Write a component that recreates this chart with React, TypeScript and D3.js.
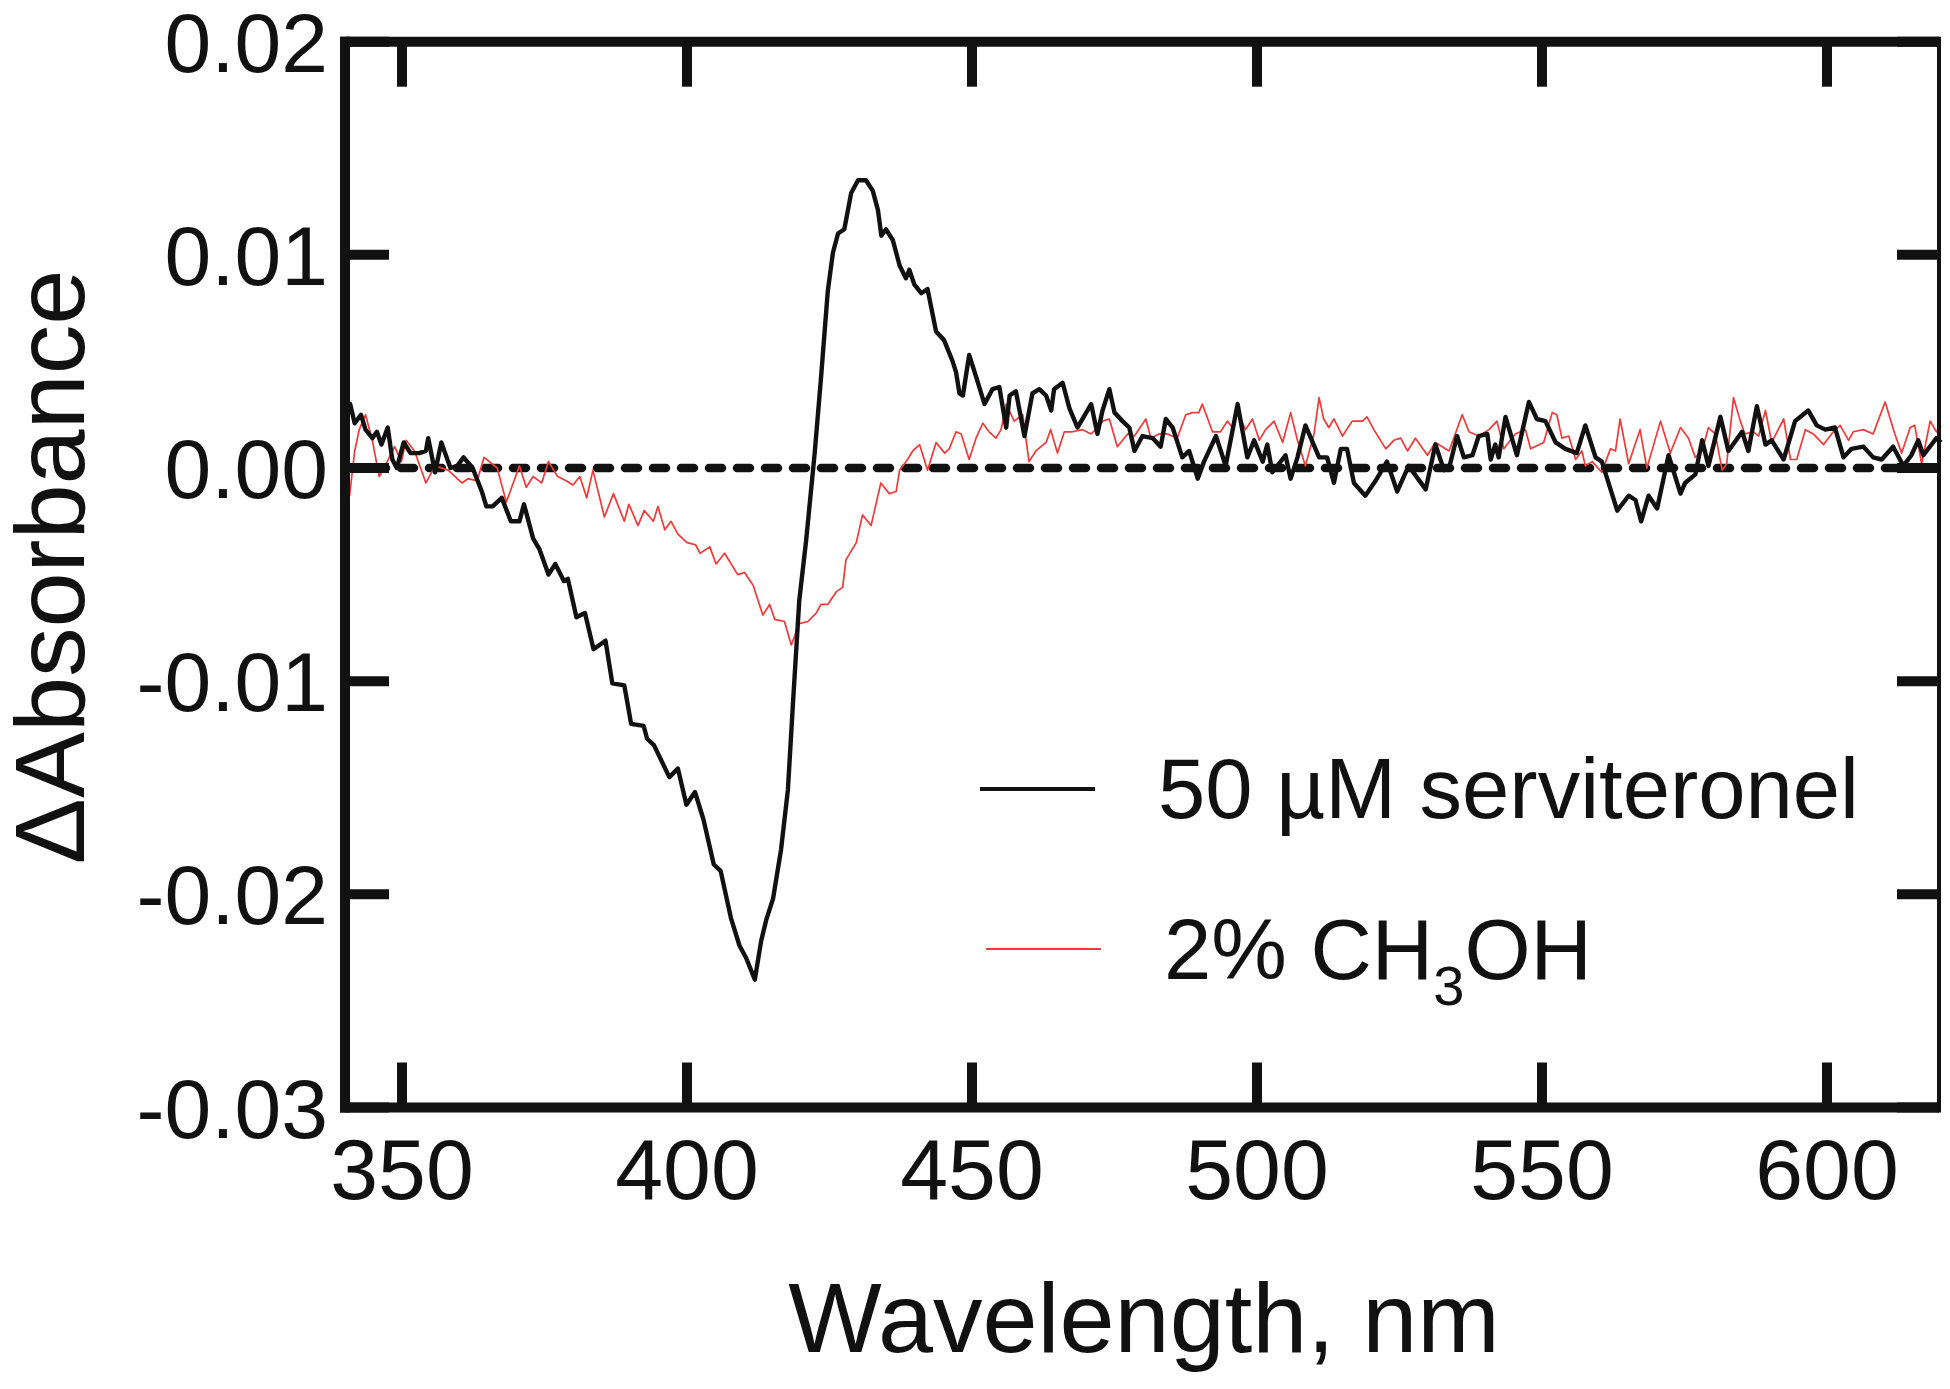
import React from "react";
import * as d3 from "d3";

const blackWl = [340.0,340.9,341.7,342.8,343.6,344.8,345.6,346.4,347.5,348.3,349.1,350.3,351.5,353.0,354.2,354.6,355.8,356.9,358.5,359.7,360.8,362.4,364.0,364.8,365.9,367.5,369.1,370.6,371.4,373.0,374.1,375.7,376.9,378.4,379.1,380.6,382.1,383.6,385.7,386.9,389.0,390.2,392.4,393.0,394.2,396.9,398.4,399.9,401.4,402.9,404.7,405.9,407.7,409.2,410.4,411.9,413.0,413.9,415.1,416.5,417.7,418.6,419.7,420.9,422.4,423.5,424.7,425.6,426.5,427.6,428.8,430.0,431.4,432.6,433.5,434.1,434.9,436.1,437.3,438.4,439.0,439.9,441.1,442.2,443.7,445.1,446.6,447.2,447.8,448.4,449.5,450.7,452.2,453.6,454.8,456.0,456.6,457.7,459.2,460.6,461.8,463.0,463.9,464.4,465.9,467.1,468.5,470.9,472.0,472.9,474.1,475.0,476.4,477.6,478.5,479.9,481.7,483.1,484.0,485.2,486.9,488.1,489.6,490.7,492.8,494.5,496.6,498.3,499.5,501.0,501.8,502.7,505.0,505.9,507.1,508.5,510.9,512.3,513.5,514.7,515.8,517.0,519.0,520.8,522.8,524.6,526.6,529.6,531.3,532.8,533.7,535.1,536.3,537.8,538.9,540.4,541.0,541.8,542.4,543.6,545.6,547.7,549.1,550.6,552.4,554.1,556.1,557.6,559.4,560.5,563.2,565.2,566.4,567.4,568.7,570.2,572.2,574.3,575.1,576.9,578.1,579.2,581.3,582.7,585.1,586.2,587.7,589.2,590.3,592.4,594.4,596.7,598.2,599.7,601.4,602.9,604.3,606.4,608.1,609.6,611.6,613.4,614.8,616.0,616.9,619.2,620.0];
const blackAbs = [0.0025,0.0030,0.0021,0.0025,0.0018,0.0014,0.0017,0.0011,0.0019,0.0004,0.0000,0.0012,0.0007,0.0007,0.0008,0.0014,-0.0002,0.0012,0.0000,0.0001,0.0005,0.0000,-0.0011,-0.0018,-0.0018,-0.0014,-0.0025,-0.0025,-0.0017,-0.0033,-0.0038,-0.0050,-0.0045,-0.0053,-0.0052,-0.0070,-0.0068,-0.0085,-0.0081,-0.0101,-0.0102,-0.0120,-0.0121,-0.0127,-0.0130,-0.0145,-0.0141,-0.0158,-0.0152,-0.0165,-0.0186,-0.0189,-0.0211,-0.0224,-0.0230,-0.0240,-0.0222,-0.0212,-0.0202,-0.0179,-0.0151,-0.0110,-0.0062,-0.0034,0.0007,0.0042,0.0083,0.0101,0.0110,0.0112,0.0129,0.0135,0.0135,0.0130,0.0121,0.0109,0.0112,0.0107,0.0095,0.0089,0.0093,0.0086,0.0082,0.0084,0.0064,0.0060,0.0050,0.0045,0.0035,0.0034,0.0053,0.0043,0.0030,0.0037,0.0038,0.0019,0.0034,0.0036,0.0015,0.0035,0.0037,0.0034,0.0027,0.0037,0.0040,0.0028,0.0019,0.0030,0.0016,0.0027,0.0037,0.0026,0.0022,0.0019,0.0008,0.0015,0.0014,0.0010,0.0023,0.0019,0.0005,0.0008,-0.0005,0.0003,0.0015,0.0001,0.0030,0.0005,0.0013,0.0003,0.0011,-0.0002,0.0006,-0.0005,0.0005,0.0020,0.0005,0.0005,-0.0007,0.0009,0.0009,-0.0007,-0.0013,-0.0006,0.0003,-0.0011,0.0001,-0.0010,0.0011,-0.0001,0.0000,0.0015,0.0005,0.0006,0.0015,0.0016,0.0004,0.0011,0.0005,0.0024,0.0006,0.0031,0.0023,0.0022,0.0012,0.0009,0.0007,0.0020,0.0005,0.0003,-0.0020,-0.0013,-0.0015,-0.0025,-0.0013,-0.0019,0.0006,-0.0012,-0.0007,-0.0003,0.0013,0.0001,0.0024,0.0008,0.0017,0.0008,0.0029,0.0011,0.0013,0.0004,0.0022,0.0027,0.0020,0.0018,0.0019,0.0005,0.0009,0.0010,0.0005,0.0004,0.0010,0.0001,0.0006,0.0013,0.0006,0.0014,0.0012];

const redWl = [340.0,340.3,340.8,341.7,342.5,343.6,344.8,346.0,347.2,348.7,349.9,350.7,352.2,354.2,355.8,358.1,360.5,361.6,363.2,364.4,366.7,368.3,370.6,371.8,373.0,374.5,375.7,377.3,378.8,380.0,381.2,382.4,383.5,385.5,387.1,389.0,389.8,391.4,392.5,394.1,394.9,396.1,397.2,398.4,400.0,401.5,402.3,404.0,405.1,406.6,408.9,410.1,411.6,413.3,414.5,415.4,417.1,418.3,419.7,421.2,422.7,423.5,424.7,426.2,427.3,427.9,429.7,430.8,432.3,434.0,435.5,436.7,437.3,438.7,439.6,440.8,442.2,443.7,445.2,446.0,447.2,448.1,449.5,450.7,451.9,453.0,454.2,455.1,456.0,457.4,458.9,460.0,461.2,463.0,463.8,465.0,466.2,467.6,469.4,470.9,471.7,472.9,474.1,475.5,477.3,478.5,480.5,481.4,482.8,484.3,486.0,487.5,488.7,489.8,490.4,492.2,493.6,494.8,495.7,496.6,498.0,499.2,500.4,501.5,503.0,504.5,505.9,507.1,508.5,510.0,510.9,511.7,512.6,513.5,515.0,516.7,518.5,519.3,520.5,522.6,524.0,525.2,526.4,527.8,529.9,531.3,533.7,536.0,537.2,538.9,540.7,542.1,543.3,545.3,547.1,548.0,550.3,551.8,552.6,553.5,554.7,555.9,557.0,557.6,558.8,560.5,562.0,562.9,563.7,565.2,567.2,568.4,570.8,572.5,574.3,575.7,576.9,578.1,579.2,580.4,581.6,582.4,583.6,584.8,585.6,587.1,588.0,589.2,590.3,592.4,593.6,594.7,596.2,597.6,599.4,601.1,602.3,603.8,604.6,606.4,608.1,610.2,611.9,613.1,614.6,615.4,616.6,618.1,619.2,620.0];
const redAbs = [0.0010,0.0028,-0.0013,0.0008,0.0018,0.0025,0.0013,-0.0004,0.0002,0.0010,0.0003,0.0013,0.0008,-0.0007,0.0001,-0.0001,-0.0007,-0.0005,-0.0006,0.0005,0.0000,-0.0016,0.0001,-0.0009,-0.0004,-0.0007,0.0003,-0.0004,-0.0006,-0.0008,-0.0004,-0.0014,-0.0001,-0.0023,-0.0012,-0.0025,-0.0017,-0.0027,-0.0020,-0.0025,-0.0018,-0.0029,-0.0025,-0.0031,-0.0035,-0.0036,-0.0040,-0.0037,-0.0045,-0.0040,-0.0050,-0.0049,-0.0055,-0.0069,-0.0064,-0.0071,-0.0072,-0.0083,-0.0073,-0.0072,-0.0068,-0.0064,-0.0064,-0.0058,-0.0056,-0.0043,-0.0035,-0.0022,-0.0027,-0.0007,-0.0012,-0.0011,-0.0001,0.0004,0.0008,0.0011,-0.0001,0.0012,0.0007,0.0009,0.0017,0.0016,0.0004,0.0014,0.0021,0.0017,0.0014,0.0018,0.0030,0.0022,0.0025,0.0003,0.0008,0.0012,0.0018,0.0007,0.0017,0.0017,0.0018,0.0016,0.0018,0.0022,0.0023,0.0010,0.0016,0.0015,0.0023,0.0014,0.0016,0.0016,0.0014,0.0025,0.0026,0.0026,0.0030,0.0017,0.0017,0.0022,0.0019,0.0026,0.0018,0.0023,0.0013,0.0018,0.0022,0.0012,0.0026,0.0013,0.0001,0.0016,0.0033,0.0023,0.0019,0.0023,0.0015,0.0022,0.0022,0.0024,0.0018,0.0009,0.0013,0.0014,0.0008,0.0014,0.0006,0.0012,0.0008,0.0025,0.0017,0.0015,0.0018,0.0022,0.0009,0.0016,0.0018,0.0009,0.0012,0.0026,0.0025,0.0014,0.0015,0.0004,0.0008,0.0001,0.0003,-0.0002,0.0009,0.0008,0.0023,0.0002,0.0018,0.0000,0.0022,0.0007,0.0019,0.0014,0.0005,0.0008,0.0019,0.0016,-0.0001,0.0002,0.0033,0.0022,0.0016,0.0017,0.0015,0.0027,0.0012,0.0023,0.0004,0.0004,0.0018,0.0016,0.0011,0.0017,0.0020,0.0013,0.0017,0.0018,0.0016,0.0031,0.0016,0.0007,0.0019,0.0020,0.0002,0.0022,0.0017,0.0020];

const xTicks = [350, 400, 450, 500, 550, 600];
const yTicks = [0.02, 0.01, 0.0, -0.01, -0.02, -0.03];
const yTickLabels = ["0.02", "0.01", "0.00", "-0.01", "-0.02", "-0.03"];
const seriesNames = ["50 \u00B5M serviteronel", "2% CH"];

const FONT = "'Liberation Sans', Arial, Helvetica, sans-serif";

export default function App() {
  const W = 1950, H = 1389;
  const x = d3.scaleLinear().domain([340, 620]).range([345, 1941]);
  const y = d3.scaleLinear().domain([-0.03, 0.02]).range([1107.5, 41.7]);

  const line = d3
    .line<[number, number]>()
    .x((d) => x(d[0]))
    .y((d) => y(d[1]));

  const blackData: [number, number][] = blackWl.map((w, i) => [w, blackAbs[i]]);
  const redData: [number, number][] = redWl.map((w, i) => [w, redAbs[i]]);

  const left = x(340), right = x(620) - 2, top = y(0.02), bottom = y(-0.03);

  return (
    <div style={{ position: "absolute", left: 0, top: 0 }}>
      <svg width={W} height={H} style={{ display: "block", background: "#fff" }}>
        {/* zero dashed line */}
        <line x1={left} x2={right} y1={y(0)} y2={y(0)} stroke="#111" strokeWidth={8.5}
          strokeDasharray="13 15" strokeLinecap="round" />
        {/* data */}
        <path d={line(redData) || ""} fill="none" stroke="#f03a3a" strokeWidth={1.7} strokeLinejoin="round" />
        <path d={line(blackData) || ""} fill="none" stroke="#111" strokeWidth={4.4} strokeLinejoin="round" />

        {/* frame */}
        <line x1={left} x2={left} y1={top - 5} y2={bottom + 5} stroke="#111" strokeWidth={10} />
        <line x1={left - 5} x2={right} y1={bottom} y2={bottom} stroke="#111" strokeWidth={10} />
        <line x1={left - 5} x2={right} y1={top} y2={top} stroke="#111" strokeWidth={10} />
        <line x1={right} x2={right} y1={top - 5} y2={bottom + 5} stroke="#111" strokeWidth={4} />

        {/* x ticks */}
        {xTicks.map((t) => (
          <g key={"xt" + t}>
            <line x1={x(t)} x2={x(t)} y1={bottom} y2={bottom - 45} stroke="#111" strokeWidth={10} />
            <line x1={x(t)} x2={x(t)} y1={top} y2={top + 45} stroke="#111" strokeWidth={10} />
            <text x={x(t)} y={1199} textAnchor="middle" fontFamily={FONT} fontSize={86} fill="#111">
              {t}
            </text>
          </g>
        ))}
        {/* y ticks */}
        {yTicks.map((t, i) => (
          <g key={"yt" + t}>
            <line x1={left} x2={left + 44} y1={y(t)} y2={y(t)} stroke="#111" strokeWidth={10} />
            <line x1={right} x2={right - 42} y1={y(t)} y2={y(t)} stroke="#111" strokeWidth={10} />
            <text x={328} y={y(t) + 30} textAnchor="end" fontFamily={FONT} fontSize={84} fill="#111">
              {yTickLabels[i]}
            </text>
          </g>
        ))}

        {/* axis titles */}
        <text x={1144} y={1352} textAnchor="middle" fontFamily={FONT} fontSize={99} fill="#111">
          Wavelength, nm
        </text>
        <text transform="translate(84,567) rotate(-90)" textAnchor="middle" fontFamily={FONT} fontSize={99} fill="#111">
          {"\u0394Absorbance"}
        </text>

        {/* legend */}
        <line x1={980} x2={1095} y1={789} y2={789} stroke="#111" strokeWidth={4} />
        <text x={1158} y={818} fontFamily={FONT} fontSize={85} fill="#111">{seriesNames[0]}</text>
        <line x1={986} x2={1101} y1={949} y2={949} stroke="#f03a3a" strokeWidth={1.8} />
        <text x={1164} y={979} fontFamily={FONT} fontSize={85} fill="#111">
          {seriesNames[1]}
          <tspan fontSize={56} dy={26}>3</tspan>
          <tspan dy={-26}>OH</tspan>
        </text>
      </svg>
    </div>
  );
}
